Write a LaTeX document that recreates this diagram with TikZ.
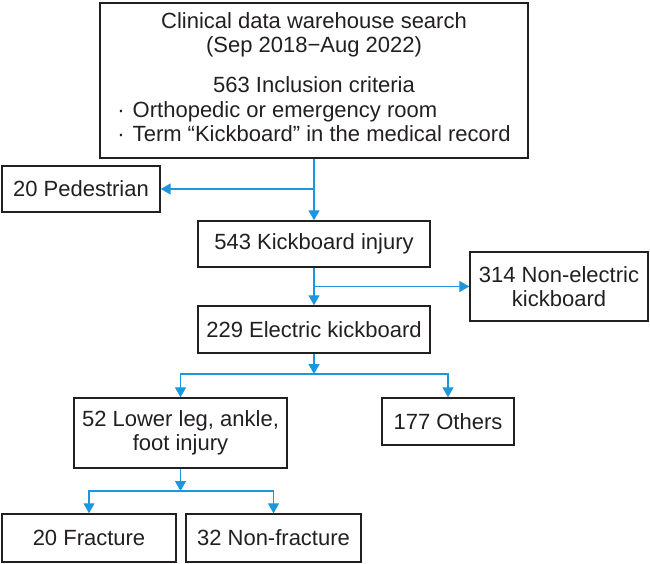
\documentclass[tikz,border=0pt]{standalone}
\usepackage{fontspec}
\setmainfont{Liberation Sans}
\usetikzlibrary{positioning,arrows.meta}
\definecolor{flowblue}{RGB}{28,150,220}
\definecolor{inkblack}{RGB}{35,31,32}
\tikzset{
	box/.style = {draw=inkblack, line width=1.4pt, text=inkblack, align=center, inner sep=0pt,
		font={\fontsize{22}{24.5}\selectfont}},
	flow/.style = {->, draw=flowblue, line width=1.3pt}
}

\begin{document}
\begin{tikzpicture}[>={Triangle[length=10pt,width=11pt]}, x=1pt, y=-1pt]
\useasboundingbox (0,0) rectangle (650,563);

\node [box, minimum width=428pt, minimum height=155pt] (search) at (314,80.5)
	{Clinical data warehouse search\\(Sep 2018−Aug 2022)\\[15.5pt]
	563 Inclusion criteria\\
	\begin{tabular}[t]{@{}l@{}}·\hspace{8pt}Orthopedic or emergency room\\·\hspace{8pt}Term “Kickboard” in the medical record\end{tabular}};
\node [box, minimum width=158pt, minimum height=46pt] (pedestrian) at (81,189) {20 Pedestrian};
\node [box, minimum width=232pt, minimum height=46pt] (kickboard) at (314,244) {543 Kickboard injury};
\node [box, minimum width=178pt, minimum height=69pt] (nonelectric) at (559,286.5) {314 Non-electric\\kickboard};
\node [box, minimum width=232pt, minimum height=47pt] (electric) at (314,329.5) {229 Electric kickboard};
\node [box, minimum width=213pt, minimum height=70pt] (lowerleg) at (180.5,433) {52 Lower leg, ankle,\\foot injury};
\node [box, minimum width=132pt, minimum height=47pt] (others) at (448,421.5) {177 Others};
\node [box, minimum width=174pt, minimum height=48pt] (fracture) at (89,538) {20 Fracture};
\node [box, minimum width=175pt, minimum height=48pt] (nonfracture) at (273.5,538) {32 Non-fracture};

\coordinate (split1) at (314,374);
\coordinate (split2) at (180.5,491);

\draw [flow] (search) -- (kickboard);
\draw [flow] (search.south |- pedestrian) -- (pedestrian);
\draw [flow] (kickboard) -- (electric);
\draw [flow] (kickboard.south |- nonelectric) -- (nonelectric);

\draw [flow] (electric) -- (split1);
\draw [flow] (split1) -| (lowerleg);
\draw [flow] (split1) -| (others);

\draw [flow] (lowerleg) -- (split2);
\draw [flow] (split2) -| (fracture);
\draw [flow] (split2) -| (nonfracture);
\end{tikzpicture}
\end{document}
